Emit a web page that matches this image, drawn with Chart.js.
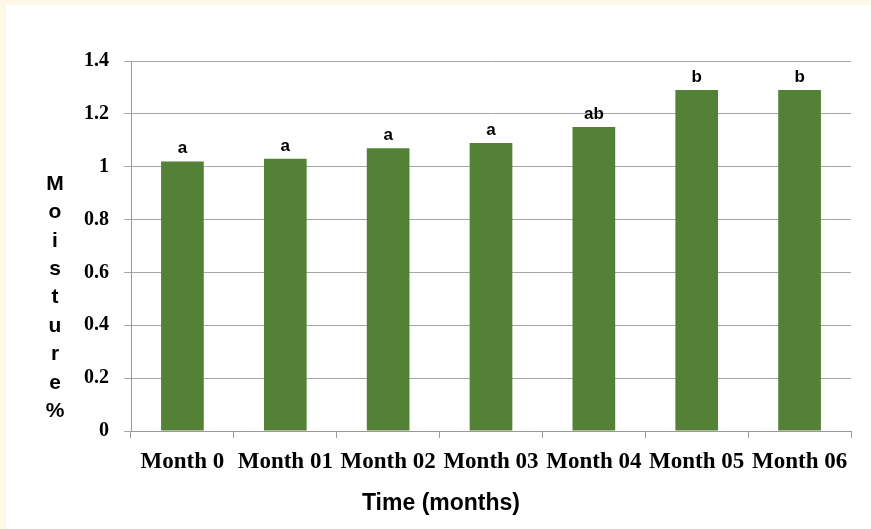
<!DOCTYPE html>
<html>
<head>
<meta charset="utf-8">
<script src="https://cdn.jsdelivr.net/npm/chart.js@4/dist/chart.umd.min.js"></script>
<style>
  html, body { margin: 0; padding: 0; background: #fdf9e6; }
  #wrap { position: absolute; left: 6px; top: 5px; width: 865px; height: 524px; background: #ffffff; }
  canvas { display: block; }
</style>
</head>
<body>
<div id="wrap"><canvas id="c" width="865" height="524"></canvas></div>
<script>
const categories = ['Month 0', 'Month 01', 'Month 02', 'Month 03', 'Month 04', 'Month 05', 'Month 06'];
const moisture = [1.02, 1.03, 1.07, 1.09, 1.15, 1.29, 1.29];
const significance = ['a', 'a', 'a', 'a', 'ab', 'b', 'b'];
const yTicks = [0, 0.2, 0.4, 0.6, 0.8, 1, 1.2, 1.4];
const xTitle = 'Time (months)';
const yTitle = 'Moisture%';

const annotate = {
  id: 'annotate',
  afterDatasetsDraw(chart) {
    const ctx = chart.ctx;
    const meta = chart.getDatasetMeta(0);
    ctx.save();
    ctx.fillStyle = '#000';
    ctx.textAlign = 'center';
    ctx.textBaseline = 'alphabetic';
    ctx.font = 'bold 17px "Liberation Sans", Arial, sans-serif';
    meta.data.forEach((bar, i) => {
      ctx.fillText(significance[i], bar.x, bar.y - 8);
    });
    // x axis title
    ctx.font = 'bold 23px "Liberation Sans", Arial, sans-serif';
    ctx.textBaseline = 'middle';
    ctx.fillText(xTitle, 435, 499);
    // y axis title, stacked letters
    ctx.font = 'bold 21px "Liberation Sans", Arial, sans-serif';
    const letters = Array.from(yTitle);
    letters.forEach((ch, i) => {
      ctx.fillText(ch, 49, 179 + i * 28.4);
    });
    ctx.restore();
  }
};

new Chart(document.getElementById('c'), {
  type: 'bar',
  data: {
    labels: categories,
    datasets: [{
      data: moisture,
      backgroundColor: '#538135',
      borderWidth: 0,
      barPercentage: 0.415,
      categoryPercentage: 1.0
    }]
  },
  options: {
    responsive: false,
    animation: false,
    layout: { padding: { top: 56, right: 20, left: 0, bottom: 0 } },
    plugins: { legend: { display: false }, tooltip: { enabled: false } },
    scales: {
      x: {
        offset: true,
        afterFit(scale) { scale.height = 98; },
        grid: { offset: true, drawOnChartArea: false, drawTicks: true, tickLength: 7, color: '#9a9a9a' },
        border: { color: '#9a9a9a', width: 1 },
        ticks: {
          autoSkip: false, maxRotation: 0, minRotation: 0, padding: 10, color: '#000',
          font: { family: '"Liberation Serif", "Times New Roman", serif', weight: 'bold', size: 23 }
        }
      },
      y: {
        min: 0, max: 1.4,
        afterFit(scale) { scale.width = 125; },
        afterBuildTicks(scale) { scale.ticks = yTicks.map(v => ({ value: v })); },
        grid: { color: '#a6a6a6', tickLength: 7, drawTicks: true },
        border: { color: '#9a9a9a', width: 1 },
        ticks: {
          padding: 15, color: '#000',
          callback: (v) => String(v),
          font: { family: '"Liberation Serif", "Times New Roman", serif', weight: 'bold', size: 20 }
        }
      }
    }
  },
  plugins: [annotate]
});
</script>
</body>
</html>
